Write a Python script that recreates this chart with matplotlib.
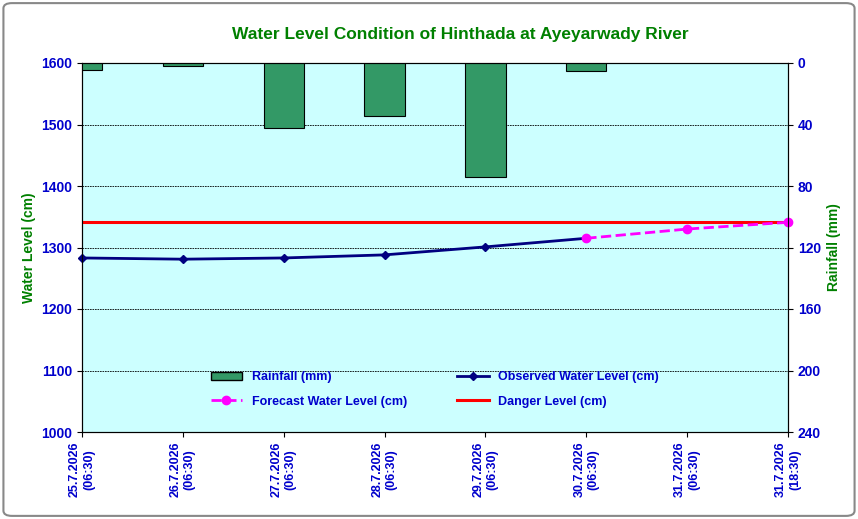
import matplotlib
matplotlib.use("Agg")
import matplotlib.pyplot as plt
from matplotlib.lines import Line2D
from matplotlib.patches import Patch, FancyBboxPatch

labels = ["25.7.2026\n(06:30)", "26.7.2026\n(06:30)", "27.7.2026\n(06:30)", "28.7.2026\n(06:30)",
          "29.7.2026\n(06:30)", "30.7.2026\n(06:30)", "31.7.2026\n(06:30)", "31.7.2026\n(18:30)"]
rainfall = [4.5, 2, 42, 34.5, 74, 5.2]
observed = [1283, 1281, 1283, 1288, 1301, 1315]
forecast_idx = [5, 6, 7]
forecast = [1315, 1330, 1341]
danger = 1341

fig = plt.figure(figsize=(8.58, 5.19), dpi=100)
fig.patches.append(FancyBboxPatch((0.004, 0.006), 0.992, 0.988, boxstyle="round,pad=0,rounding_size=0.01",
                                  transform=fig.transFigure, fc="white", ec="#888888", lw=1.5))
ax = fig.add_axes([82/858, 1-432/519, (788-82)/858, (432-63)/519])
ax.set_facecolor("#CCFFFF")
ax2 = ax.twinx()
ax.set_zorder(2)
ax2.set_zorder(3)
x = list(range(len(labels)))
ax2.bar(x[:len(rainfall)], rainfall, width=0.4, color="#339966", edgecolor="black", lw=0.8)
ax2.set_ylim(240, 0)
ax2.set_yticks(range(0, 241, 40))
ax2.set_xlim(0, 7)

ax.set_ylim(1000, 1600)
ax.set_xlim(0, 7)
ax.set_yticks(range(1000, 1601, 100))
for v in range(1100, 1600, 100):
    ax.axhline(v, color="black", lw=0.6, ls=(0, (2, 1)), zorder=1)

def to2(v): return 240 - (v-1000)*0.4
ax2.axhline(to2(danger), color="#FF0000", lw=2.2)
ax2.plot(x[:len(observed)], [to2(v) for v in observed], color="#000080", lw=2, marker="D", ms=4, clip_on=False)
ax2.plot(forecast_idx, [to2(v) for v in forecast], color="#FF00FF", lw=2, ls="--", marker="o", ms=6, clip_on=False)

ax.set_xticks(x)
ax.set_xticklabels(labels, rotation=90, fontsize=9, fontweight="bold", color="#0000CC",
                   family="Liberation Sans", multialignment="center")
for a in (ax, ax2):
    for t in a.get_yticklabels():
        t.set_fontweight("bold"); t.set_color("#0000CC"); t.set_fontsize(10); t.set_family("Liberation Sans")
ax.set_ylabel("Water Level (cm)", color="#008000", fontweight="bold", fontsize=10, family="Liberation Sans")
ax2.set_ylabel("Rainfall (mm)", color="#008000", fontweight="bold", fontsize=10, family="Liberation Sans")
fig.text(0.537, 0.925, "Water Level Condition of Hinthada at Ayeyarwady River", ha="center", color="#008000",
         fontweight="bold", fontsize=12.5, family="Liberation Sans")

handles = [Patch(fc="#339966", ec="black"),
           Line2D([], [], color="#FF00FF", lw=2, ls="--", marker="o", ms=6),
           Line2D([], [], color="#000080", lw=2, marker="D", ms=4),
           Line2D([], [], color="#FF0000", lw=2.2)]
names = ["Rainfall (mm)", "Forecast Water Level (cm)", "Observed Water Level (cm)", "Danger Level (cm)"]
leg = ax2.legend(handles, names, ncol=2, loc="lower center", bbox_to_anchor=(0.5, 0.035), frameon=False,
                 prop={"family": "Liberation Sans", "weight": "bold", "size": 9}, columnspacing=4,
                 labelspacing=1.0, handlelength=2.5)
for t in leg.get_texts(): t.set_color("#0000CC")
fig.savefig("out.png", dpi=100)
